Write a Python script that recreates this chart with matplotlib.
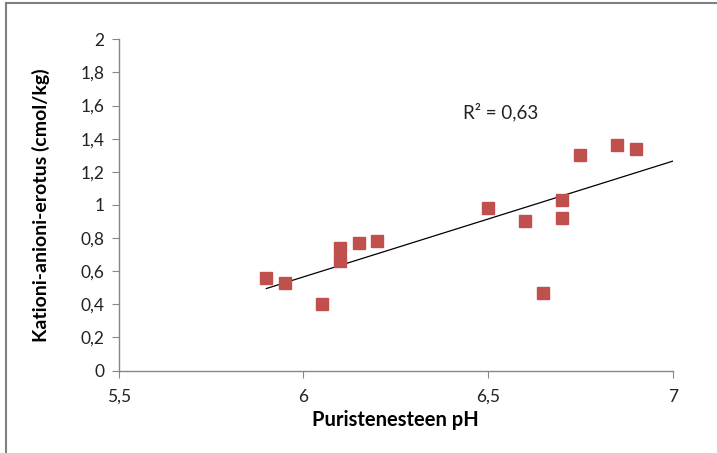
import numpy as np
import matplotlib.pyplot as plt
from matplotlib.lines import Line2D

ph = [5.90, 5.95, 6.05, 6.10, 6.10, 6.15, 6.20, 6.50, 6.60, 6.65, 6.70, 6.70, 6.75, 6.85, 6.90]
diff = [0.56, 0.53, 0.40, 0.74, 0.66, 0.77, 0.78, 0.98, 0.90, 0.47, 1.03, 0.92, 1.30, 1.36, 1.34]
yticks = [0, 0.2, 0.4, 0.6, 0.8, 1, 1.2, 1.4, 1.6, 1.8, 2]
xticks = [5.5, 6, 6.5, 7]

plt.rcParams['font.family'] = ['Lato', 'DejaVu Sans']

fig = plt.figure(figsize=(7.17, 4.53), dpi=100)
ax = fig.add_axes([0.1654, 0.1821, 0.9382 - 0.1654, 0.9132 - 0.1821])

ax.plot(ph, diff, 's', color='#C0504D', ms=8.5, mec='#C0504D', zorder=3)

# linear trend, extended to the axis end
k, b = np.polyfit(ph, diff, 1)
xs = np.array([min(ph), 7.0])
ax.plot(xs, k * xs + b, color='black', lw=0.9, zorder=2)

ax.text(6.432, 1.52, 'R² = 0,63', fontsize=13.5, color='#222222')

ax.set_xlim(5.5, 7)
ax.set_ylim(0, 2)
ax.set_xticks(xticks)
ax.set_yticks(yticks)
ax.set_xticklabels([str(v).replace('.', ',') for v in xticks], fontsize=12.5)
ax.set_yticklabels([('%g' % v).replace('.', ',') for v in yticks], fontsize=12.5)

for side in ['top', 'right']:
    ax.spines[side].set_visible(False)
for side in ['left', 'bottom']:
    ax.spines[side].set_color('#868686')
    ax.spines[side].set_linewidth(1)
ax.tick_params(direction='out', length=5, color='#868686', labelcolor='#222222')
ax.tick_params(axis='x', pad=8)
ax.tick_params(axis='y', pad=5)

ax.set_xlabel('Puristenesteen pH', fontsize=14.5, fontweight='bold', labelpad=4)
ax.set_ylabel('Kationi-anioni-erotus (cmol/kg)', fontsize=14, fontweight='bold', labelpad=22)

# frame around the chart (left and top edges visible)
fig.add_artist(Line2D([5.5 / 717, 5.5 / 717], [0, 1 - 2.5 / 453], color='#7f7f7f', lw=1.5))
fig.add_artist(Line2D([5.5 / 717, 1], [1 - 2.5 / 453, 1 - 2.5 / 453], color='#7f7f7f', lw=1.5))

fig.savefig('out.png', dpi=100)
